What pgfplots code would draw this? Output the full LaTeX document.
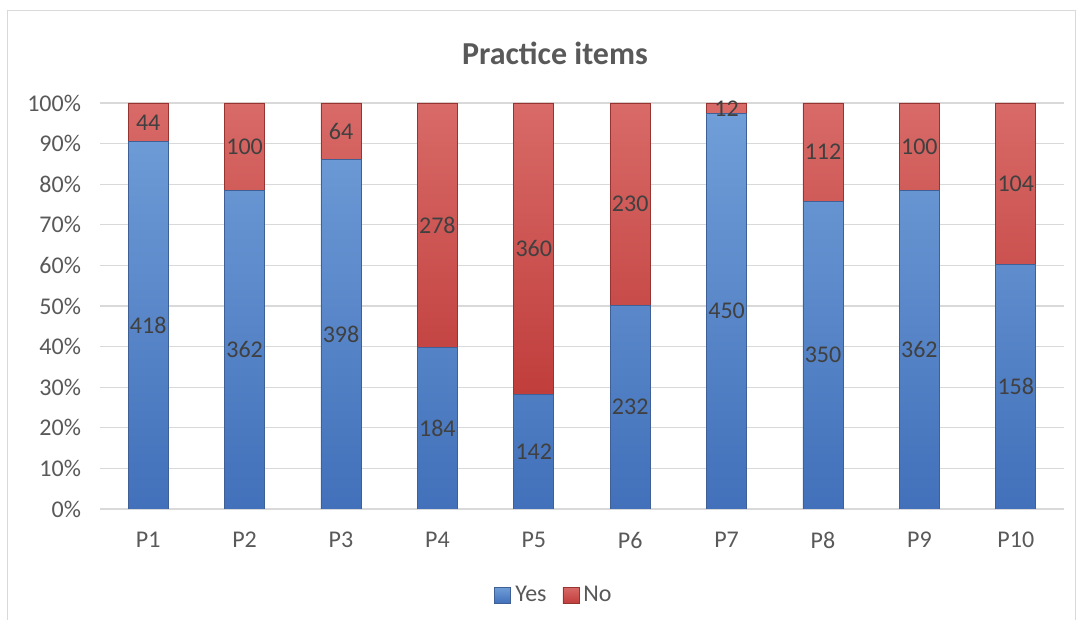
\documentclass[border=0pt]{standalone}
\usepackage{pgfplots}
\pgfplotsset{compat=1.18}
\usepackage{pgfplotstable}
\usepackage{fontspec}
\setmainfont{Carlito}
\definecolor{txt}{RGB}{89,89,89}
\definecolor{lbl}{RGB}{64,64,64}
\definecolor{gridc}{RGB}{217,217,217}
\definecolor{bluetop}{RGB}{112,158,216}
\definecolor{bluebot}{RGB}{66,112,186}
\definecolor{blueedge}{RGB}{62,96,150}
\definecolor{redtop}{RGB}{216,106,103}
\definecolor{redbot}{RGB}{192,62,60}
\definecolor{rededge}{RGB}{150,52,50}
\pgfplotstableread{
x yes yescount no nocount
0 90.476 418 9.524 44
1 78.355 362 21.645 100
2 86.147 398 13.853 64
3 39.827 184 60.173 278
4 28.287 142 71.713 360
5 50.216 232 49.784 230
6 97.403 450 2.597 12
7 75.758 350 24.242 112
8 78.355 362 21.645 100
9 60.305 158 39.695 104
}\data
\begin{document}
\begin{tikzpicture}
\useasboundingbox (0pt,0pt) rectangle (541pt,310pt);
\draw[gridc] (3.5pt,-2pt) rectangle (537.5pt,305pt);
\node[font=\bfseries\fontsize{16}{18}\selectfont, text=txt] at (277.5pt,283.5pt) {Practice items};
\begin{axis}[
  at={(50pt,55.5pt)}, anchor=south west, scale only axis,
  width=482pt, height=203pt,
  ybar stacked, bar width=20pt,
  xmin=-0.5, xmax=9.5, ymin=0, ymax=100,
  xtick={0,...,9}, xticklabels={P1,P2,P3,P4,P5,P6,P7,P8,P9,P10},
  ytick={0,10,...,100},
  yticklabel={\pgfmathprintnumber{\tick}\%},
  /pgf/number format/assume math mode=true,
  ymajorgrids, grid style={gridc, line width=0.6pt},
  axis line style={draw=none},
  major tick style={draw=none},
  tick label style={font=\fontsize{12}{14}\selectfont, text=txt},
  yticklabel style={xshift=-6pt},
  xticklabel style={yshift=-8pt},
  point meta=explicit,
  nodes near coords,
  every node near coord/.append style={anchor=center, font=\fontsize{12}{14}\selectfont, text=lbl},
  legend style={at={(0.472,-0.212)}, anchor=center, draw=none, legend columns=2, font=\fontsize{12}{14}\selectfont, text=txt, /tikz/every even column/.append style={column sep=6pt}},
  legend image code/.code={\path[#1] (0pt,-4pt) rectangle (8pt,4pt);},
]
\addplot[draw=blueedge, line width=0.4pt, top color=bluetop, bottom color=bluebot] table[x=x, y=yes, meta=yescount] {\data};
\addplot[draw=rededge, line width=0.4pt, top color=redtop, bottom color=redbot] table[x=x, y=no, meta=nocount] {\data};
\legend{Yes,No}
\end{axis}
\end{tikzpicture}
\end{document}
